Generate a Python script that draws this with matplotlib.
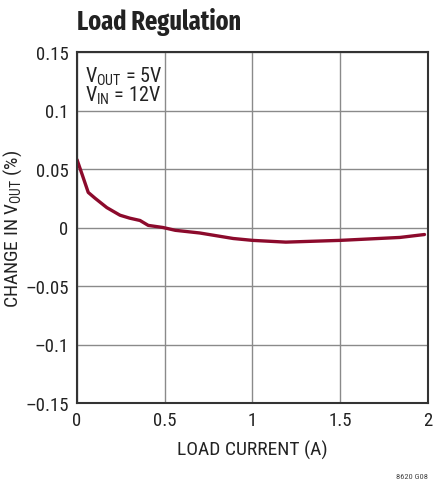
import matplotlib
matplotlib.use("Agg")
import matplotlib.pyplot as plt

plt.rcParams['font.family'] = ['Roboto Condensed', 'DejaVu Sans']
plt.rcParams['mathtext.fontset'] = 'custom'
plt.rcParams['mathtext.rm'] = 'Roboto Condensed'

load_current = [0.0, 0.03, 0.064, 0.103, 0.17, 0.245, 0.30, 0.359, 0.406, 0.49, 0.56, 0.70, 0.89, 1.0, 1.19, 1.5, 1.84, 1.98]
change_vout = [0.058, 0.045, 0.030, 0.025, 0.017, 0.0105, 0.008, 0.006, 0.0018, 0.0, -0.0024, -0.0047, -0.0094, -0.011, -0.0125, -0.011, -0.0085, -0.006]

xticks = [0, 0.5, 1, 1.5, 2]
xticklabels = ["0", "0.5", "1", "1.5", "2"]
yticks = [-0.15, -0.1, -0.05, 0, 0.05, 0.1, 0.15]
yticklabels = ["\u20130.15", "\u20130.1", "\u20130.05", "0", "0.05", "0.1", "0.15"]

fig = plt.figure(figsize=(4.35, 4.81), dpi=100)
ax = fig.add_axes([77/435, 1-404/481, 351/435, 351/481])
ax.plot(load_current, change_vout, color="#8c0a2c", lw=2.4, solid_capstyle="round")
ax.set_xlim(0, 2)
ax.set_ylim(-0.15, 0.15)
ax.set_xticks(xticks)
ax.set_xticklabels(xticklabels)
ax.set_yticks(yticks)
ax.set_yticklabels(yticklabels)
ax.grid(True, color="#8a8a8a", lw=1.0)
ax.tick_params(length=0, labelsize=13.5, pad=6, labelcolor="#222222")
for s in ax.spines.values():
    s.set_color("#333333")
    s.set_linewidth(1.5)
ax.set_xlabel("LOAD CURRENT (A)", fontsize=14, color="#222222")
ax.set_ylabel(r"CHANGE IN V$_{\mathregular{OUT}}$ (%)", fontsize=14, color="#222222")
ax.xaxis.set_label_coords(0.5, (404-450)/351)
ax.xaxis.label.set_va("center")
ax.yaxis.set_label_coords((13-77)/351, 0.5)
ax.yaxis.label.set_va("center")
ax.text(0.022, 0.965, "V$_{\\mathregular{OUT}}$ = 5V\nV$_{\\mathregular{IN}}$ = 12V", transform=ax.transAxes,
        va="top", ha="left", fontsize=14.5, linespacing=0.85, color="#222222")
fig.text(77/435, 1-29.5/481, "Load Regulation", fontsize=19, fontweight="bold",
         family=["Fira Sans Extra Condensed", "Roboto Condensed", "DejaVu Sans"],
         va="baseline", ha="left", color="#222222")
fig.text(0.985, 0.003, "8620 G08", fontsize=6, ha="right", va="bottom", color="#444444")
fig.savefig("out.png", dpi=100)
